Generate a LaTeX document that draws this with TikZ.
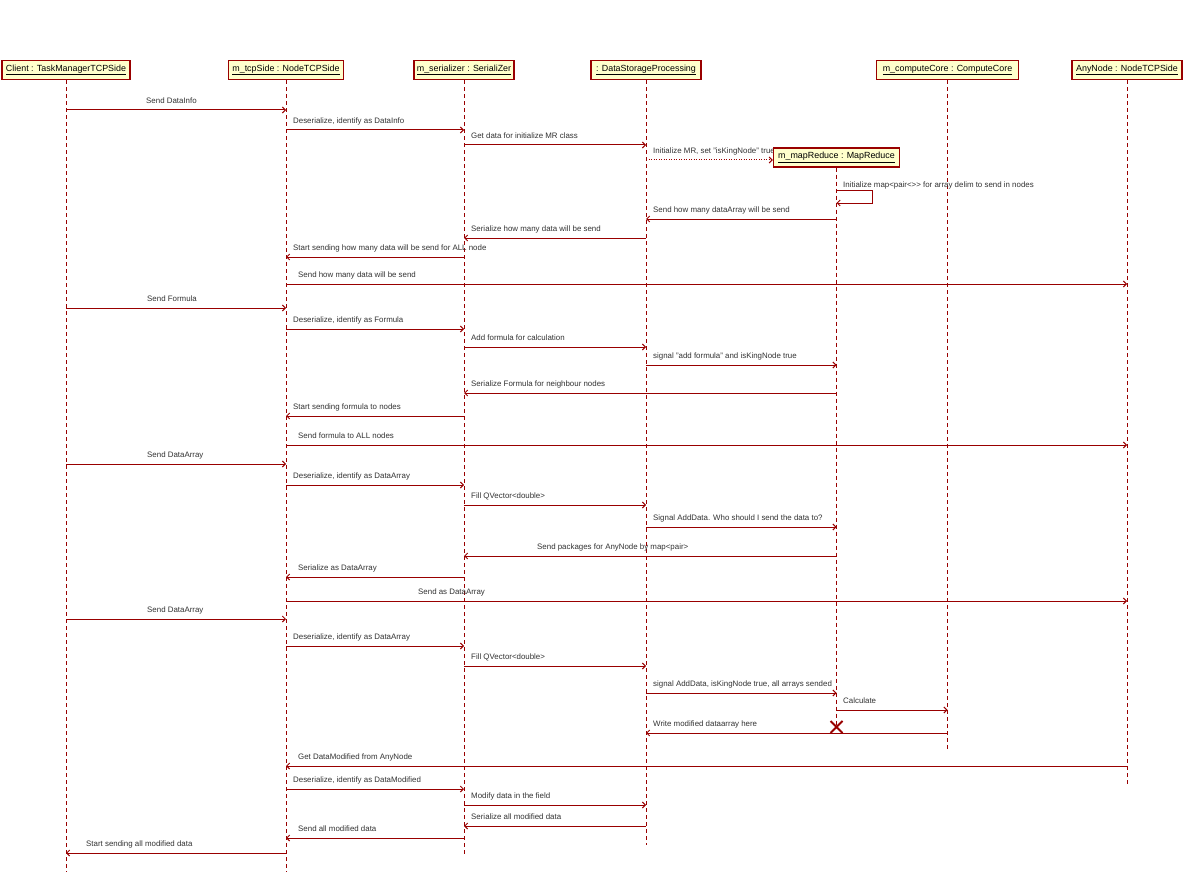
\documentclass[tikz,border=0pt]{standalone}
\usepackage{fontspec}
\setmainfont{Liberation Sans}
\usetikzlibrary{arrows.meta}
\definecolor{umlred}{HTML}{990000}
\definecolor{umlfill}{HTML}{FFFFCC}
\definecolor{lbltext}{HTML}{333333}

% message: [style]{name}{from}{to}{y}{label x}{label}
\newcommand\seqmsg[7][msg]{%
  \draw[#1] (#3 |- 0,#5) -- (#4 |- 0,#5);
  \node[lbl] (#2) at (#6,#5-6.5) {#7};}

\begin{document}
\begin{tikzpicture}[x=1pt,y=-1pt,
  obj/.style={draw=umlred, fill=umlfill, line width=1.2pt, minimum height=19pt,
    inner xsep=2pt, inner ysep=2pt, font=\fontsize{8.9}{10}\selectfont},
  life/.style={draw=umlred, line width=0.9pt, dash pattern=on 4pt off 3pt},
  msg/.style={draw=umlred, line width=1pt, -{Straight Barb[length=3pt,width=6pt]}},
  ret/.style={msg, dash pattern=on 1pt off 1.5pt},
  lbl/.style={anchor=base west, inner sep=0pt, text=lbltext, font=\fontsize{7.9}{9}\selectfont},
]
\useasboundingbox[fill=white] (0,0) rectangle (1184,872);

% objects
\node[obj, minimum width=128pt] (client) at (66,70)  {\underline{Client : TaskManagerTCPSide}};
\node[obj, minimum width=115pt] (tcp)    at (286,70) {\underline{m\_tcpSide : NodeTCPSide}};
\node[obj, minimum width=100pt] (ser)    at (464,70) {\underline{m\_serializer : SerialiZer}};
\node[obj, minimum width=110pt] (dsp)    at (646,70) {\underline{: DataStorageProcessing}};
\node[obj, minimum width=142pt] (cc)     at (947.5,70) {\underline{m\_computeCore : ComputeCore}};
\node[obj, minimum width=110pt] (any)    at (1127,70) {\underline{AnyNode : NodeTCPSide}};

% lifelines
\draw[life] (client.south) -- (client |- 0,872);
\draw[life] (tcp.south) -- (tcp |- 0,872);
\draw[life] (ser.south) -- (ser |- 0,857);
\draw[life] (dsp.south) -- (dsp |- 0,845);
\draw[life] (cc.south) -- (cc |- 0,751);
\draw[life] (any.south) -- (any |- 0,785);

% DataInfo
\seqmsg{m1}{client}{tcp}{110}{146}{Send DataInfo}
\seqmsg{m2}{tcp}{ser}{130}{293}{Deserialize, identify as DataInfo}
\seqmsg{m3}{ser}{dsp}{145}{471}{Get data for initialize MR class}
\node[lbl] (m4) at (653,153.5) {Initialize MR, set "isKingNode" true};
% created object
\node[obj, minimum width=126pt] (mr) at (836.5,157.5) {\underline{m\_mapReduce : MapReduce}};
\draw[life] (mr.south) -- (mr |- 0,727);
\draw[ret] (dsp |- 0,160) -- (mr.west |- 0,160);
\draw[msg] (mr |- 0,191) -- ++(36,0) -- ++(0,12) -- (mr |- 0,203);
\node[lbl] (m5) at (843,187) {Initialize map<pair<>{}> for array delim to send in nodes};
\seqmsg{m6}{mr}{dsp}{219}{653}{Send how many dataArray will be send}
\seqmsg{m7}{dsp}{ser}{238}{471}{Serialize how many data will be send}
\seqmsg{m8}{ser}{tcp}{257}{293}{Start sending how many data will be send for ALL node}
\seqmsg{m9}{tcp}{any}{284}{298}{Send how many data will be send}

% Formula
\seqmsg{m10}{client}{tcp}{308}{147}{Send Formula}
\seqmsg{m11}{tcp}{ser}{329}{293}{Deserialize, identify as Formula}
\seqmsg{m12}{ser}{dsp}{347}{471}{Add formula for calculation}
\seqmsg{m13}{dsp}{mr}{365}{653}{signal "add formula" and isKingNode true}
\seqmsg{m14}{mr}{ser}{393}{471}{Serialize Formula for neighbour nodes}
\seqmsg{m15}{ser}{tcp}{416}{293}{Start sending formula to nodes}
\seqmsg{m16}{tcp}{any}{445}{298}{Send formula to ALL nodes}

% DataArray (distribution)
\seqmsg{m17}{client}{tcp}{464}{147}{Send DataArray}
\seqmsg{m18}{tcp}{ser}{485}{293}{Deserialize, identify as DataArray}
\seqmsg{m19}{ser}{dsp}{505}{471}{Fill QVector<double>}
\seqmsg{m20}{dsp}{mr}{527}{653}{Signal AddData. Who should I send the data to?}
\seqmsg{m21}{mr}{ser}{556}{537}{Send packages for AnyNode by map<pair>}
\seqmsg{m22}{ser}{tcp}{577}{298}{Serialize as DataArray}
\seqmsg{m23}{tcp}{any}{601}{418}{Send as DataArray}

% DataArray (calculation)
\seqmsg{m24}{client}{tcp}{619}{147}{Send DataArray}
\seqmsg{m25}{tcp}{ser}{646}{293}{Deserialize, identify as DataArray}
\seqmsg{m26}{ser}{dsp}{666}{471}{Fill QVector<double>}
\seqmsg{m27}{dsp}{mr}{693}{653}{signal AddData, isKingNode true, all arrays sended}
\seqmsg{m28}{mr}{cc}{710}{843}{Calculate}
\seqmsg{m29}{cc}{dsp}{733}{653}{Write modified dataarray here}
% end of m_mapReduce
\coordinate (mrend) at (mr |- 0,727);
\draw[umlred, line width=1.8pt] ([shift={(-6,-6)}]mrend) -- ([shift={(6,6)}]mrend)
  ([shift={(-6,6)}]mrend) -- ([shift={(6,-6)}]mrend);

% DataModified
\seqmsg{m30}{any}{tcp}{766}{298}{Get DataModified from AnyNode}
\seqmsg{m31}{tcp}{ser}{789}{293}{Deserialize, identify as DataModified}
\seqmsg{m32}{ser}{dsp}{805}{471}{Modify data in the field}
\seqmsg{m33}{dsp}{ser}{826}{471}{Serialize all modified data}
\seqmsg{m34}{ser}{tcp}{838}{298}{Send all modified data}
\seqmsg{m35}{tcp}{client}{853}{86}{Start sending all modified data}
\end{tikzpicture}
\end{document}
